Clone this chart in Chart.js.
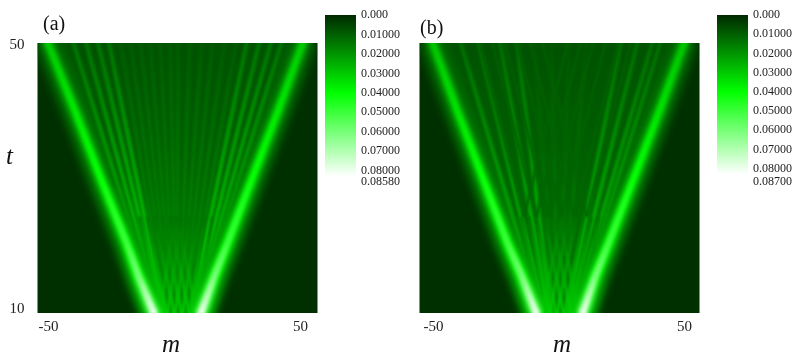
<!DOCTYPE html>
<html>
<head>
<meta charset="utf-8">
<style>
html, body { margin: 0; padding: 0; background: #fff; }
body { width: 798px; height: 362px; position: relative; overflow: hidden; font-family: "Liberation Serif", serif; color: #111; }
canvas { position: absolute; }
.lbl { position: absolute; line-height: 1; white-space: nowrap; z-index: 2; }
</style>
<script src="https://cdn.jsdelivr.net/npm/chart.js@4/dist/chart.umd.min.js"></script>
</head>
<body>
<div class="lbl" style="left:43px;top:13px;font-size:20px">(a)</div>
<div class="lbl" style="left:420px;top:17px;font-size:20px">(b)</div>
<div class="lbl" style="left:6px;top:143px;font-size:25px;font-style:italic">t</div>
<div class="lbl" style="left:162px;top:331px;font-size:25px;font-style:italic">m</div>
<div class="lbl" style="left:553px;top:331px;font-size:25px;font-style:italic">m</div>
<canvas id="panelA" width="322" height="362" style="left:0;top:0"></canvas>
<canvas id="barA" width="80" height="200" style="left:322px;top:0"></canvas>
<canvas id="panelB" width="322" height="362" style="left:382px;top:0"></canvas>
<canvas id="barB" width="80" height="200" style="left:714px;top:0"></canvas>
<script>
// colour scale, same for both panels
const colorPos = [0, 0.04, 0.083];
const colorRed = [0, 0, 255];
const colorGreen = [42, 255, 255];
const colorBlue = [0, 0, 255];

const outsideValue = 0.0012;

// t rows where ridge positions / levels were read
const ridgeT = [9, 15, 20, 30, 40, 51];
const fanEndsT = [9, 51];
const fanLevelT = [9, 20, 51];
const latticeT = [9, 24];
const crossT = [24, 51];

const mainLeftA = [-7.8, -14.3, -19, -29.5, -39.5, -51];
const mainRightA = [10.1, 15.8, 21, 31, 41, 51.5];
const mainValuesA = [0.08, 0.06, 0.05, 0.041, 0.036, 0.03];
const insideValuesA = [0.014, 0.014, 0.013, 0.0105, 0.009, 0.0075];
const fanBottomA = [-6.5, -5.6, -4.7, -3.9, -3, -2.3, -1.6, -0.9, -0.2, 0.5, 1, 2, 2.8, 3.6, 4.4, 5.2, 6, 7, 7.8, 8.6];
const fanTopA = [-40.7, -35.6, -30.8, -26.4, -21.7, -17.7, -13.7, -9.8, -5.8, -1.8, 1.4, 6.1, 10.9, 15.3, 20, 24.7, 29, 34, 38.7, 43];
const fanNearA = [0.034, 0.031, 0.015];
const fanFarA = [0.02, 0.018, 0.0095];
const latticeStartA = [-6, -3, 0, 3, 6, 9];
const latticeEndA = [-14, -11, -8, -5, -2, 1];
const latticeEnd2A = [0, 3, 6, 9, 12, 15];
const latticeValuesA = [0.032, 0.013];
const crossStartA = [];
const crossEndA = [];
const crossValuesA = [];

const mainLeftB = [-8.7, -14.8, -20.5, -30.5, -40.5, -51];
const mainRightB = [9.1, 14.5, 19.8, 30, 40, 50.5];
const mainValuesB = [0.08, 0.06, 0.05, 0.041, 0.035, 0.029];
const insideValuesB = [0.015, 0.014, 0.013, 0.0105, 0.009, 0.0075];
const fanBottomB = [-6.8, -5.4, -4, -3, -1.6, -0.5, 0.5, 1.6, 3, 4, 5.4, 6.8];
const fanTopB = [-39.7, -32.5, -23.8, -17, -10, -3, 4, 11, 25, 31.7, 37.7, 40.9];
const fanNearB = [0.032, 0.028, 0.0135];
const fanFarB = [0.02, 0.016, 0.0085];
const latticeStartB = [-7, -4, -1, 2, 5, 8];
const latticeEndB = [-15, -12, -9, -6, -3, 0];
const latticeEnd2B = [1, 4, 7, 10, 13, 16];
const latticeValuesB = [0.032, 0.013];
const crossStartB = [-14, -9, -4, 1, 6, 11, -14, -9, -4, 1, 6, 11];
const crossEndB = [-32, -27, -22, -17, -12, -7, 4, 9, 14, 19, 24, 29];
const crossValuesB = [0.0115, 0.0095];

// colour bars
const barTicksA = [0, 0.01, 0.02, 0.03, 0.04, 0.05, 0.06, 0.07, 0.08, 0.0858];
const barLabelsA = ['0.000', '0.01000', '0.02000', '0.03000', '0.04000', '0.05000', '0.06000', '0.07000', '0.08000', '0.08580'];
const barTicksB = [0, 0.01, 0.02, 0.03, 0.04, 0.05, 0.06, 0.07, 0.08, 0.087];
const barLabelsB = ['0.000', '0.01000', '0.02000', '0.03000', '0.04000', '0.05000', '0.06000', '0.07000', '0.08000', '0.08700'];

function colorFor(v) {
    let i = 0;
    while (i < colorPos.length - 2 && v > colorPos[i + 1]) i++;
    const f = Math.min(1, Math.max(0, (v - colorPos[i]) / (colorPos[i + 1] - colorPos[i])));
    const mix = arr => Math.round(arr[i] + (arr[i + 1] - arr[i]) * f);
    return `rgb(${mix(colorRed)},${mix(colorGreen)},${mix(colorBlue)})`;
}

function tGradient(context, ts, values, scale) {
    const chart = context.chart;
    const yScale = chart.scales.y;
    if (!chart.chartArea || !yScale) return colorFor(values[0] * scale);
    const g = chart.ctx.createLinearGradient(0, yScale.bottom, 0, yScale.top);
    ts.forEach((t, i) => {
        const stop = Math.min(1, Math.max(0, (t - yScale.min) / (yScale.max - yScale.min)));
        g.addColorStop(stop, colorFor(values[i] * scale));
    });
    return g;
}

function linePoints(ms, ts) {
    return ms.map((m, i) => ({ x: m, y: ts[i] }));
}

function ridge(ms, ts, levelT, values, scale, width, blur) {
    return {
        data: linePoints(ms, ts),
        borderColor: context => tGradient(context, levelT, values, scale),
        borderWidth: width,
        blur: blur,
        fill: false,
        clip: 0,
        pointRadius: 0,
        tension: 0
    };
}

const softBlur = {
    id: 'softBlur',
    beforeDraw(chart) {
        const a = chart.chartArea;
        chart.ctx.fillStyle = colorFor(outsideValue);
        chart.ctx.fillRect(a.left, a.top, a.width, a.height);
    },
    beforeDatasetDraw(chart, args) {
        chart.ctx.save();
        chart.ctx.filter = `blur(${chart.data.datasets[args.index].blur || 0}px)`;
    },
    afterDatasetDraw(chart) {
        chart.ctx.restore();
    }
};

function drawPanel(id, showT, xMin, xMax, left, right, mainValues, insideValues, fanBottom, fanTop, fanNear, fanFar, latStart, latEnd, latEnd2, latValues, crossStart, crossEnd, crossValues) {
    const datasets = [];
    // main ridges, top of the pile
    [left, right].forEach(ms => {
        datasets.push(ridge(ms, ridgeT, ridgeT, mainValues, 1, 6, 1.6));
        datasets.push(ridge(ms, ridgeT, ridgeT, mainValues, 0.72, 12, 2.2));
        datasets.push(ridge(ms, ridgeT, ridgeT, mainValues, 0.38, 25, 4.5));
    });
    latStart.forEach((m, i) => {
        datasets.push(ridge([m, latEnd[i]], latticeT, latticeT, latValues, 1, 2.5, 1));
        datasets.push(ridge([m, latEnd2[i]], latticeT, latticeT, latValues, 1, 2.5, 1));
    });
    crossStart.forEach((m, i) => {
        datasets.push(ridge([m, crossEnd[i]], crossT, crossT, crossValues, 1, 3, 1.2));
    });
    fanTop.forEach((m, i) => {
        const edge = Math.min(i, fanTop.length - 1 - i);
        const levels = edge < 4 ? fanNear : fanFar;
        datasets.push(ridge([fanBottom[i], m], fanEndsT, fanLevelT, levels, 1, 3.5, 1.4));
    });
    // inside of the V
    datasets.push({ data: linePoints(left, ridgeT), borderWidth: 0, pointRadius: 0, fill: false, clip: 0 });
    datasets.push({
        data: linePoints(right, ridgeT),
        borderWidth: 0,
        pointRadius: 0,
        clip: 0,
        fill: '-1',
        backgroundColor: context => tGradient(context, ridgeT, insideValues, 1)
    });

    new Chart(document.getElementById(id), {
        type: 'line',
        data: { datasets },
        plugins: [softBlur],
        options: {
            responsive: false,
            animation: false,
            indexAxis: 'y',
            layout: { padding: { top: 43, right: 4.5, left: 0, bottom: 0 } },
            plugins: { legend: { display: false }, tooltip: { enabled: false } },
            scales: {
                x: {
                    type: 'linear',
                    min: xMin,
                    max: xMax,
                    grid: { display: false, drawTicks: false },
                    border: { display: false },
                    afterBuildTicks: axis => { axis.ticks = [{ value: -50 }, { value: 50 }]; },
                    afterFit: axis => { axis.height = 49; },
                    ticks: { color: '#222', padding: 5, maxRotation: 0, autoSkip: false, font: { family: 'Liberation Serif', size: 15 } }
                },
                y: {
                    type: 'linear',
                    min: 9.4,
                    max: 50.3,
                    grid: { display: false, drawTicks: false },
                    border: { display: false },
                    afterBuildTicks: axis => { axis.ticks = [{ value: 10 }, { value: 50 }]; },
                    afterFit: axis => { axis.width = 37.5; },
                    ticks: { display: showT, color: '#222', padding: 13, autoSkip: false, font: { family: 'Liberation Serif', size: 15 } }
                }
            }
        }
    });
}

function drawBar(id, ticks, labels) {
    const top = ticks[ticks.length - 1];
    new Chart(document.getElementById(id), {
        type: 'bar',
        data: {
            labels: ['scale'],
            datasets: [{
                data: [[0, top]],
                barPercentage: 1,
                categoryPercentage: 1,
                backgroundColor: context => {
                    const chart = context.chart;
                    if (!chart.chartArea) return colorFor(0);
                    const y = chart.scales.y;
                    const g = chart.ctx.createLinearGradient(0, y.top, 0, y.bottom);
                    colorPos.forEach(v => { if (v <= top) g.addColorStop(v / top, colorFor(v)); });
                    g.addColorStop(1, '#fff');
                    return g;
                }
            }]
        },
        options: {
            responsive: false,
            animation: false,
            layout: { padding: { top: 15, left: 3, right: 0, bottom: 18 } },
            plugins: { legend: { display: false }, tooltip: { enabled: false } },
            scales: {
                x: { display: false },
                y: {
                    position: 'right',
                    reverse: true,
                    min: 0,
                    max: top,
                    grid: { display: false, drawTicks: false },
                    border: { display: false },
                    afterBuildTicks: axis => { axis.ticks = ticks.map(v => ({ value: v })); },
                    afterFit: axis => { axis.width = 46; },
                    ticks: {
                        color: '#222',
                        padding: 5,
                        autoSkip: false,
                        font: { family: 'Liberation Serif', size: 12 },
                        callback: value => labels[ticks.indexOf(value)]
                    }
                }
            }
        }
    });
}

drawPanel('panelA', true, -54.4, 56.7, mainLeftA, mainRightA, mainValuesA, insideValuesA, fanBottomA, fanTopA, fanNearA, fanFarA, latticeStartA, latticeEndA, latticeEnd2A, latticeValuesA, crossStartA, crossEndA, crossValuesA);
drawPanel('panelB', false, -55.6, 56, mainLeftB, mainRightB, mainValuesB, insideValuesB, fanBottomB, fanTopB, fanNearB, fanFarB, latticeStartB, latticeEndB, latticeEnd2B, latticeValuesB, crossStartB, crossEndB, crossValuesB);
drawBar('barA', barTicksA, barLabelsA);
drawBar('barB', barTicksB, barLabelsB);
</script>
</body>
</html>
